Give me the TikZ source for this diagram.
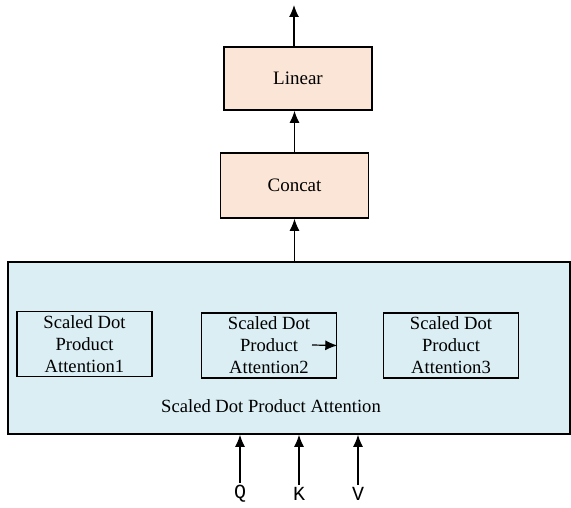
\documentclass[tikz,border=0pt]{standalone}
\usepackage{fontspec}
\setmainfont{Liberation Serif}
\setmonofont{Liberation Mono}
\usetikzlibrary{arrows.meta}
\definecolor{peach}{RGB}{251,229,214}
\definecolor{paleblue}{RGB}{218,238,243}
\tikzset{
  >={Latex[length=6pt,width=5pt]},
  layerbox/.style={draw,thick,fill=peach,minimum width=74pt,minimum height=32pt,font=\rmfamily\fontsize{9.5}{11}\selectfont},
  headbox/.style={draw,thick,minimum width=67.5pt,minimum height=32.5pt,align=center,font=\rmfamily\fontsize{9.3}{11}\selectfont,inner sep=0pt},
  qkv/.style={font=\ttfamily\fontsize{10}{11}\selectfont,inner sep=1pt}
}
\begin{document}
\begin{tikzpicture}[x=0.5pt,y=-0.5pt,semithick]
\useasboundingbox (0,0) rectangle (571,507);
%grid
%\draw[help lines,step=20] (0,0) grid (571,507);
%outer block
\node[draw,thick,fill=paleblue,minimum width=281pt,minimum height=86pt,inner sep=0pt] (attn) at (289,348) {};
\node[font=\rmfamily\fontsize{9.3}{11}\selectfont] (attnlabel) at (271,406) {Scaled Dot Product Attention};
%heads
\node[headbox] (head1) at (84.5,344) {Scaled Dot\\Product\\Attention1};
\node[headbox] (head2) at (269,345.5) {Scaled Dot\\Product\hspace{14pt}\\Attention2};
\node[headbox] (head3) at (451,345.5) {Scaled Dot\\Product\\Attention3};
\coordinate (h2in) at (312,345);
\draw[->] (h2in)--(head2.east);
%upper layers
\node[layerbox,minimum height=32.5pt] (concat) at (294.5,185.5) {Concat};
\node[layerbox,minimum height=31.5pt] (linear) at (298,78.5) {Linear};
\coordinate (out) at (294,5);
\draw[->] (attn.north-|concat.south)--(concat.south);
\draw[->] (concat.north-|294.5,0)--(linear.south-|294.5,0);
\draw[->] (linear.north-|out)--(out);
%inputs
\node[qkv] (q) at (240,494) {Q};
\node[qkv] (k) at (299,494) {K};
\node[qkv] (v) at (358,494) {V};
\foreach \n in {q,k,v}
  \draw[->] (\n.north)--(\n.north|-attn.south);
\end{tikzpicture}
\end{document}
